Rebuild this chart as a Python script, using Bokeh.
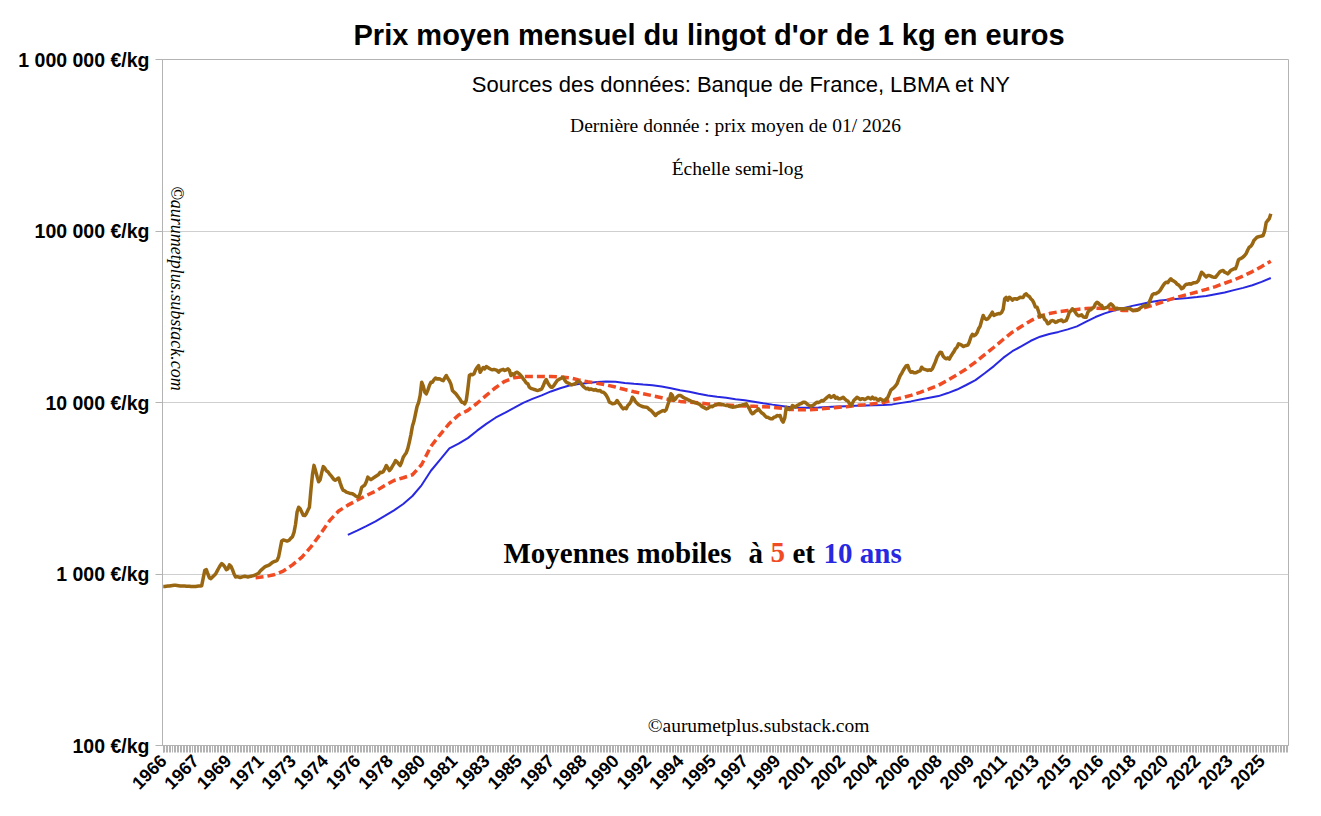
import numpy as np
from bokeh.plotting import figure
from bokeh.models import Range1d, FixedTicker, Label
from bokeh.embed import file_html
from bokeh.resources import INLINE

# ---------------- data ----------------
# Monthly mean price of a 1 kg gold bar, EUR/kg, Jan 1966 .. Jan 2026
gold_eur_kg = [
    845, 845, 848, 850, 852, 855, 858, 860, 860, 858, 855, 852,            # 1966
    850, 850, 850, 848, 848, 848, 845, 845, 845, 845, 848, 850,            # 1967
    852, 855, 950, 1050, 1060, 1000, 950, 940, 960, 980, 1000, 1040,       # 1968
    1080, 1120, 1150, 1130, 1100, 1060, 1070, 1130, 1110, 1060, 1000, 960, # 1969
    965, 960, 955, 960, 965, 970, 965, 960, 965, 970, 975, 980,            # 1970
    990, 1000, 1010, 1040, 1060, 1080, 1100, 1110, 1120, 1130, 1150, 1170, # 1971
    1180, 1190, 1200, 1260, 1400, 1560, 1580, 1570, 1560, 1560, 1580, 1620,  # 1972
    1650, 1750, 1950, 2300, 2450, 2400, 2300, 2200, 2190, 2250, 2350, 2450,  # 1973
    3100, 3800, 4300, 4000, 3700, 3450, 3550, 3900, 4230, 4150, 4000, 3950,  # 1974
    3840, 3750, 3650, 3550, 3520, 3580, 3630, 3400, 3200, 3070, 3050, 3000,  # 1975
    2980, 2960, 2950, 2940, 2900, 2850, 2820, 2810, 2950, 3200, 3250, 3300,  # 1976
    3450, 3670, 3600, 3550, 3600, 3650, 3700, 3750, 3800, 3920, 3900, 3950,  # 1977
    4100, 4290, 4150, 4010, 4100, 4250, 4400, 4590, 4500, 4390, 4290, 4500,  # 1978
    4800, 4950, 5100, 5400, 5900, 6500, 7300, 7800, 8600, 9500, 10000, 11000,  # 1979
    13135, 12500, 11500, 11236, 11800, 12560, 13135, 13135, 13600, 13900, 13700, 13747,  # 1980
    13700, 13500, 13400, 13900, 14370, 13800, 13400, 12800, 11749, 11500, 11300, 11000,  # 1981
    10700, 10400, 10040, 10000, 9827, 10300, 12000, 14370, 14600, 14500, 14700, 15500,   # 1982
    16000, 16430, 15000, 15500, 16000, 15700, 16210, 16000, 15800, 15600, 15500, 15600,  # 1983
    15500, 15371, 15030, 15371, 15500, 15600, 15371, 15500, 15700, 15400, 14370, 14700,  # 1984
    14500, 14900, 15030, 14800, 14500, 14200, 13750, 13400, 13000, 12853, 12285, 12100,  # 1985
    12020, 11900, 11860, 11750, 11800, 11860, 12000, 12500, 13200, 13600, 13000, 12600,  # 1986
    12285, 12285, 12600, 13000, 13400, 13600, 13747, 13900, 14045, 13500, 13135, 13000,  # 1987
    12900, 12700, 12700, 12800, 12900, 13200, 13300, 13135, 12700, 12400, 12200, 12020,  # 1988
    12100, 11900, 12000, 11900, 11800, 11900, 11750, 11700, 11749, 11500, 11480, 11300,  # 1989
    11000, 10600, 10040, 9950, 9827, 9850, 9950, 10274, 9950, 9700, 9400, 9180,          # 1990
    9300, 9200, 9600, 9800, 10100, 10737, 10500, 10100, 9900, 9700, 9605, 9500,          # 1991
    9450, 9400, 9389, 9300, 9100, 9000, 8800, 8600, 8400, 8600, 8700, 8800,              # 1992
    8900, 8982, 8900, 9100, 9700, 10274, 11236, 11000, 10300, 10500, 10800, 10986,       # 1993
    10986, 10900, 10700, 10600, 10510, 10400, 10300, 10200, 10100, 10040, 9950, 9900,    # 1994
    9827, 9700, 9500, 9400, 9300, 9180, 9250, 9400, 9500, 9450, 9605, 9650,              # 1995
    9750, 9827, 9800, 9750, 9700, 9650, 9605, 9600, 9500, 9450, 9389, 9400,              # 1996
    9450, 9500, 9550, 9605, 9650, 9700, 9750, 9827, 9500, 9200, 8800, 8594,              # 1997
    8700, 8900, 9000, 9180, 8900, 8700, 8600, 8400, 8215, 8200, 8100, 8030,              # 1998
    8030, 8200, 8250, 8400, 8350, 8400, 7900, 7680, 8100, 9389, 9200, 9100,              # 1999
    9200, 9605, 9500, 9400, 9600, 9700, 9827, 9900, 10040, 10040, 9900, 9700,            # 2000
    9605, 9500, 9600, 9700, 9900, 10040, 10000, 10100, 10274, 10200, 10400, 10600,       # 2001
    10800, 10986, 10700, 10800, 10986, 10600, 10737, 10500, 10510, 10600, 10737, 10500,  # 2002
    10300, 10200, 9900, 9605, 9900, 10300, 10500, 10737, 10600, 10400, 10500, 10510,     # 2003
    10400, 10510, 10700, 10600, 10500, 10737, 10500, 10600, 10400, 10300, 10510, 10400,  # 2004
    10300, 10274, 10500, 10700, 11236, 11800, 12000, 12200, 12500, 12853, 13600, 14300,  # 2005
    14800, 15371, 15900, 16400, 16430, 15500, 15025, 15100, 14900, 14900, 15025, 15200,  # 2006
    15300, 16060, 15700, 15600, 15500, 15371, 15500, 15400, 15725, 16500, 17300, 18370,  # 2007
    19000, 19650, 19500, 18600, 18200, 17980, 18200, 17900, 18600, 19230, 19800, 20600,  # 2008
    21000, 21990, 21800, 21600, 21200, 21400, 21500, 21600, 22500, 24040, 25000, 24500,  # 2009
    24800, 25500, 26900, 27800, 30000, 32170, 31000, 30500, 30760, 31500, 32500, 33610,  # 2010
    32200, 32500, 32800, 33000, 32900, 33500, 35000, 40240, 41000, 39500, 41110, 40500,  # 2011
    39500, 40240, 40240, 40000, 40500, 41110, 41000, 41000, 42500, 43040, 42000, 41500,  # 2012
    40240, 39500, 38000, 36000, 35950, 34000, 31500, 32170, 32000, 30500, 30000, 28760,  # 2013
    29000, 29800, 30070, 29800, 29300, 29500, 30000, 30070, 30300, 29600, 29800, 30070,  # 2014
    31500, 33610, 34200, 35190, 34500, 33500, 32500, 32000, 32170, 32500, 31600, 31440,  # 2015
    31440, 33500, 34500, 34800, 35500, 35950, 37600, 38440, 37900, 37000, 36780, 35500,  # 2016
    35500, 35800, 36000, 37000, 37630, 37000, 36000, 35190, 35500, 35200, 35200, 35190,  # 2017
    35000, 35200, 35190, 35300, 35500, 35000, 34500, 34390, 34390, 34500, 34800, 35500,  # 2018
    36000, 36500, 36780, 36500, 36780, 38500, 40500, 42500, 43040, 43000, 43500, 44000,  # 2019
    45000, 46500, 48110, 49500, 50290, 50000, 51500, 52640, 51500, 51000, 50290, 49000,  # 2020
    48500, 47500, 46030, 46500, 48000, 49000, 49000, 49220, 49000, 49500, 50000, 50000,  # 2021
    50290, 51500, 54500, 57510, 56500, 55000, 54000, 55000, 55010, 54500, 54000, 53770,  # 2022
    53770, 55000, 56500, 58000, 58500, 58840, 57500, 57000, 56220, 57500, 59000, 59500,  # 2023
    60200, 60200, 63500, 68000, 68840, 69500, 70500, 71950, 74000, 77500, 80440, 81500,  # 2024
    84000, 88000, 90000, 92000, 92500, 93000, 93500, 94150, 100000, 112000, 115140, 118000,  # 2025
    126000,                                                                              # 2026
]

# 5-year moving average, read every 6 months from Jan 1971 to Jan 2026
ma5_start_month = 60
ma5_eur_kg = [
    950, 965, 990, 1040, 1130, 1250, 1440, 1700, 2040, 2330,
    2520, 2690, 2870, 3040, 3280, 3510, 3640, 3790, 4350, 5550,
    6500, 7550, 8450, 9000, 9900, 11000, 12200, 13300, 13950, 14150,
    14180, 14180, 14180, 14100, 13950, 13550, 13200, 12950, 12650, 12300,
    11900, 11550, 11250, 10950, 10650, 10350, 10150, 10050, 9950, 9800,
    9750, 9680, 9600, 9550, 9500, 9450, 9390, 9250, 9100, 9070,
    9070, 9150, 9250, 9350, 9450, 9600, 9700, 9850, 10000, 10350,
    10650, 11000, 11450, 12000, 12600, 13500, 14500, 15700, 17200, 19000,
    21000, 23300, 25700, 27800, 30000, 31900, 33000, 33800, 34400, 34900,
    35300, 35500, 35300, 34900, 34400, 34300, 35300, 36600, 38100, 39800,
    41300, 42700, 44100, 45700, 47400, 49600, 51800, 54700, 58000, 62000,
    66700,
]

# 10-year moving average, read every 6 months from Jan 1976 to Jan 2026
ma10_start_month = 120
ma10_eur_kg = [
    1690, 1790, 1900, 2030, 2180, 2350, 2560, 2850, 3300, 4000,
    4650, 5400, 5750, 6200, 6850, 7500, 8150, 8700, 9300, 9950,
    10500, 11000, 11600, 12100, 12550, 12800, 13000, 13150, 13250, 13200,
    13000, 12850, 12720, 12600, 12400, 12100, 11800, 11550, 11250, 11000,
    10800, 10650, 10450, 10300, 10100, 9900, 9720, 9550, 9380, 9320,
    9310, 9360, 9420, 9470, 9520, 9570, 9620, 9650, 9660, 9750,
    9950, 10150, 10400, 10650, 10900, 11350, 11900, 12650, 13500, 14800,
    16300, 18200, 19900, 21300, 22900, 24200, 25100, 25800, 26700, 27800,
    29600, 31500, 33100, 34400, 35500, 36600, 37500, 38500, 39300, 39800,
    40300, 40700, 41200, 41800, 42800, 43800, 45200, 46600, 48300, 50500,
    53200,
]
ma_step_months = 6

# x-axis tick labels (one every 21 months, first at Jan 1966)
tick_step_months = 21
year_labels = ["1966", "1967", "1969", "1971", "1973", "1974", "1976", "1978",
               "1980", "1981", "1983", "1985", "1987", "1988", "1990", "1992",
               "1994", "1995", "1997", "1999", "2001", "2002", "2004", "2006",
               "2008", "2009", "2011", "2013", "2015", "2016", "2018", "2020",
               "2022", "2023", "2025"]
n_categories = 732  # monthly slots on the category axis (Jan 1966 .. Dec 2026)

y_ticks = [100, 1000, 10000, 100000, 1000000]
y_labels = ["100 €/kg", "1 000 €/kg", "10 000 €/kg", "100 000 €/kg", "1 000 000 €/kg"]

# ---------------- figure ----------------
GOLD = "#996611"
RED = "#F04B23"
BLUE = "#2828E1"
AXIS_GREY = "#b3b3b3"

p = figure(width=1305, height=800, output_backend="svg", toolbar_location=None,
           y_axis_type="log",
           x_range=Range1d(-0.5, n_categories - 0.5),
           y_range=Range1d(100, 1000000),
           min_border_left=162, min_border_right=17,
           min_border_top=59, min_border_bottom=55,
           title="Prix moyen mensuel du lingot d'or de 1 kg en euros")

p.title.align = "left"
p.title.offset = 191
p.title.standoff = 17
p.title.text_font = "Liberation Sans"
p.title.text_font_style = "bold"
p.title.text_font_size = "29px"
p.title.text_color = "black"

p.background_fill_color = "white"
p.border_fill_color = "white"
p.outline_line_color = AXIS_GREY
p.xgrid.grid_line_color = None
p.ygrid.grid_line_color = "#cfcfcf"
p.ygrid.grid_line_width = 1

# x axis
major_x = [i * tick_step_months for i in range(len(year_labels))]
xa = p.xaxis[0]
xa.ticker = FixedTicker(ticks=major_x, minor_ticks=list(range(n_categories)))
xa.major_label_overrides = {t: lab for t, lab in zip(major_x, year_labels)}
xa.major_label_orientation = np.pi / 4
xa.major_label_text_font = "Liberation Sans"
xa.major_label_text_font_style = "bold"
xa.major_label_text_font_size = "18px"
xa.major_label_text_color = "black"
xa.major_label_standoff = 5
xa.axis_line_color = AXIS_GREY
xa.major_tick_line_color = AXIS_GREY
xa.minor_tick_line_color = AXIS_GREY
xa.major_tick_in = 0
xa.major_tick_out = 7
xa.minor_tick_in = 0
xa.minor_tick_out = 7

# y axis
ya = p.yaxis[0]
ya.ticker = FixedTicker(ticks=y_ticks, minor_ticks=[])
ya.major_label_overrides = {t: lab for t, lab in zip(y_ticks, y_labels)}
ya.major_label_text_font = "Liberation Sans"
ya.major_label_text_font_style = "bold"
ya.major_label_text_font_size = "19.5px"
ya.major_label_text_color = "black"
ya.major_label_standoff = 6
ya.axis_line_color = AXIS_GREY
ya.major_tick_line_color = AXIS_GREY
ya.major_tick_in = 0
ya.major_tick_out = 7
ya.minor_tick_line_color = None

# series
x_gold = np.arange(len(gold_eur_kg))
x_ma5 = ma5_start_month + ma_step_months * np.arange(len(ma5_eur_kg))
x_ma10 = ma10_start_month + ma_step_months * np.arange(len(ma10_eur_kg))

p.line(x_ma10, ma10_eur_kg, line_color=BLUE, line_width=2)
p.line(x_ma5, ma5_eur_kg, line_color=RED, line_width=3.5, line_dash="8 4")
p.line(x_gold, gold_eur_kg, line_color=GOLD, line_width=3.5, line_join="round")

# annotations (screen units relative to the plot frame, origin bottom-left)
def add_label(text, x, y, size, font="Liberation Serif", style="normal",
              color="black", align="center", baseline="middle", angle=0.0):
    p.add_layout(Label(x=x, y=y, x_units="screen", y_units="screen", text=text,
                       text_font=font, text_font_style=style, text_font_size=size,
                       text_color=color, text_align=align, text_baseline=baseline,
                       angle=angle))

add_label("Sources des données: Banque de France, LBMA et NY", 579, 661, "22px",
          font="Liberation Sans")
add_label("Dernière donnée : prix moyen de 01/ 2026", 573, 620, "19.5px")
add_label("Échelle semi-log", 575, 577, "19.5px")
add_label("©aurumetplus.substack.com", 596, 20, "19.5px")
add_label("©aurumetplus.substack.com", 14, 457, "18px", style="italic",
          angle=-np.pi / 2)

add_label("Moyennes mobiles", 341, 193, "29px", style="bold", align="left",
          baseline="alphabetic")
add_label("à", 586, 193, "29px", style="bold", align="left", baseline="alphabetic")
add_label("5", 608, 193, "29px", style="bold", color=RED, align="left",
          baseline="alphabetic")
add_label("et", 630, 193, "29px", style="bold", align="left", baseline="alphabetic")
add_label("10 ans", 661, 193, "29px", style="bold", color=BLUE, align="left",
          baseline="alphabetic")

open("out.html", "w").write(file_html(p, INLINE))
